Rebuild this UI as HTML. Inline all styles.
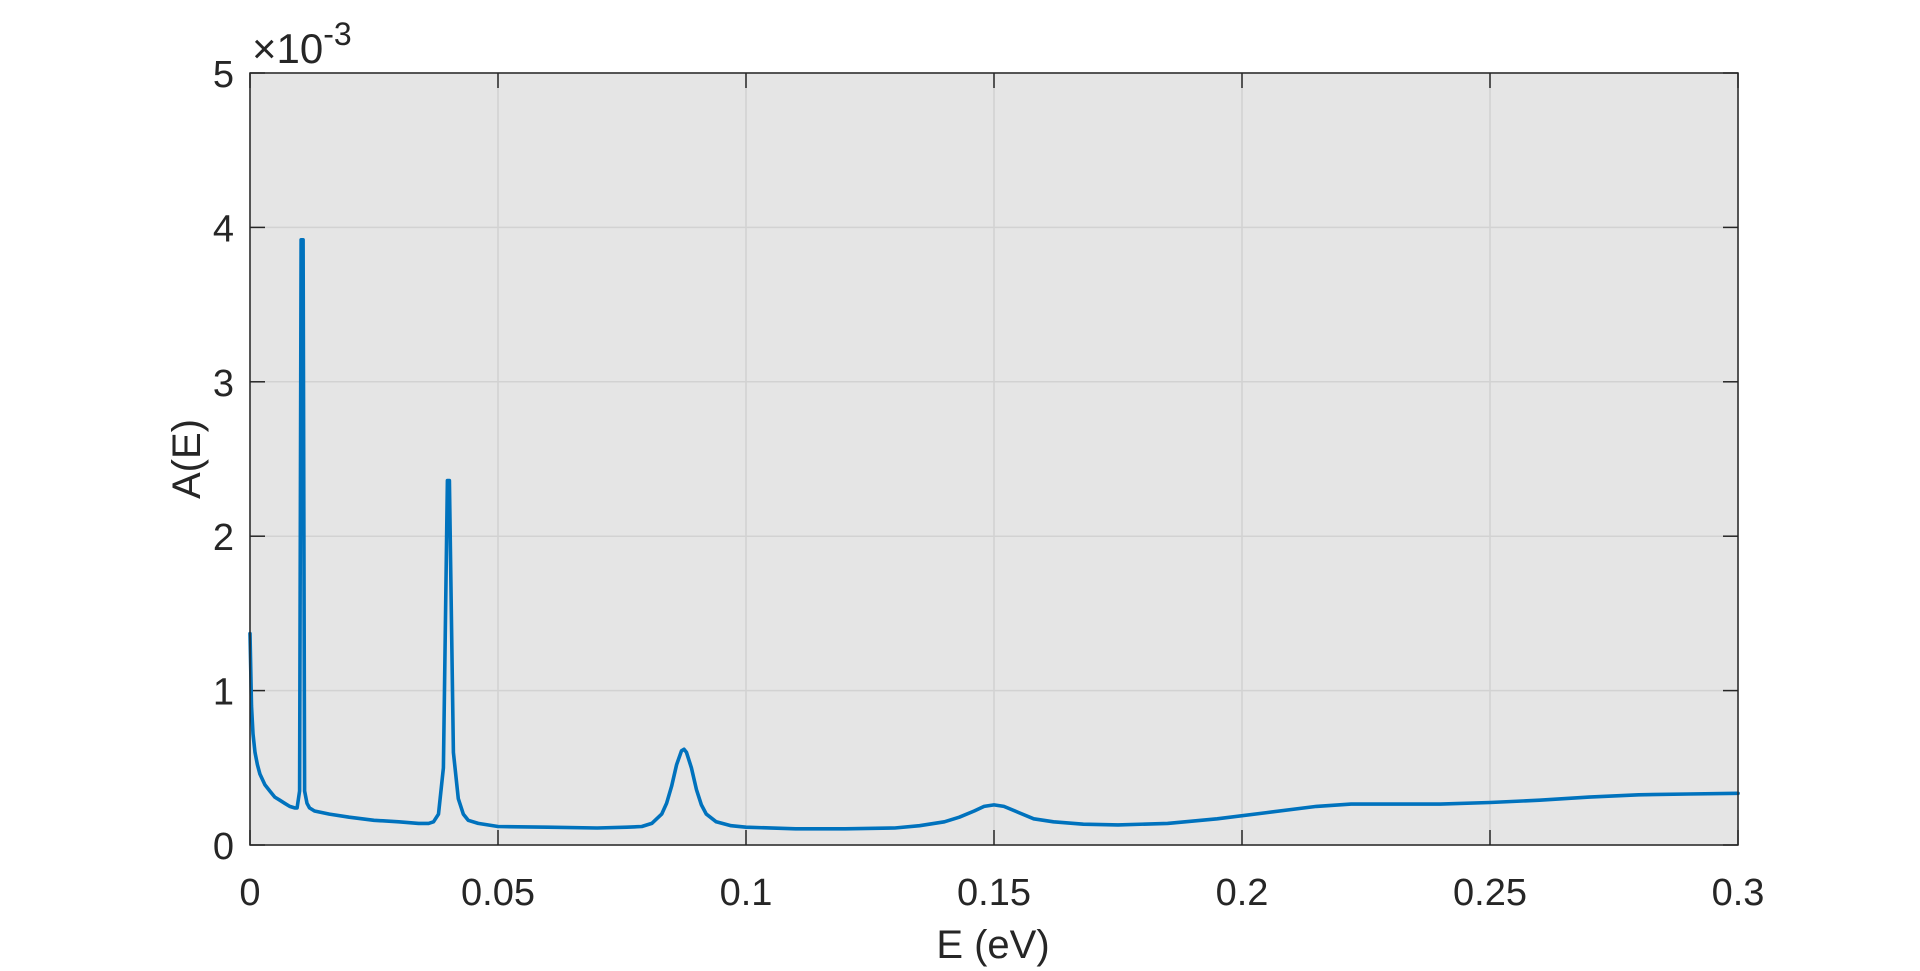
<!DOCTYPE html>
<html><head><meta charset="utf-8"><style>
html,body{margin:0;padding:0;background:#fff;}
svg{display:block;font-family:"Liberation Sans",Arial,sans-serif;}
</style></head><body>
<svg id="chart" width="1920" height="971" viewBox="0 0 1920 971">
<rect x="250" y="73" width="1488" height="772" fill="#e5e5e5"/>
<g id="grid"></g>
<g id="ticks"></g>
<polyline id="series" fill="none" stroke="#0072BD" stroke-width="3.6" stroke-linejoin="round" stroke-linecap="round"/>
<rect x="250" y="73" width="1488" height="772" fill="none" stroke="#262626" stroke-width="1.5"/>
<g id="labels" fill="#262626" font-size="38"></g>
<text x="993" y="958" text-anchor="middle" font-size="40" fill="#262626">E (eV)</text>
<text transform="translate(200,459) rotate(-90)" text-anchor="middle" font-size="40" fill="#262626">A(E)</text>
<text x="252" y="63" font-size="42" fill="#262626">×10<tspan dy="-18" font-size="32">-3</tspan></text>
</svg>
<script>
const xTicks=[0,0.05,0.1,0.15,0.2,0.25,0.3];
const xTickLabels=["0","0.05","0.1","0.15","0.2","0.25","0.3"];
const yTicks=[0,1,2,3,4,5];
const yTickLabels=["0","1","2","3","4","5"];
const energy=[0,0.0003,0.0006,0.001,0.0015,0.002,0.003,0.004,0.005,0.006,0.007,0.008,0.009,0.0095,0.0100,0.0103,0.0107,0.0110,0.0115,0.012,0.013,0.016,0.02,0.025,0.03,0.034,0.036,0.037,0.038,0.039,0.0398,0.0402,0.041,0.042,0.043,0.044,0.046,0.05,0.06,0.07,0.076,0.079,0.081,0.083,0.084,0.085,0.086,0.087,0.0875,0.088,0.089,0.09,0.091,0.092,0.094,0.097,0.1,0.11,0.12,0.13,0.135,0.14,0.143,0.146,0.148,0.15,0.152,0.155,0.158,0.162,0.168,0.175,0.185,0.195,0.205,0.215,0.222,0.23,0.24,0.25,0.26,0.27,0.28,0.29,0.3];
const absorb=[1.37,0.9,0.72,0.6,0.52,0.46,0.39,0.35,0.31,0.29,0.27,0.25,0.24,0.24,0.35,3.92,3.92,0.35,0.27,0.24,0.22,0.2,0.18,0.16,0.15,0.14,0.14,0.15,0.2,0.5,2.36,2.36,0.6,0.3,0.2,0.16,0.14,0.12,0.115,0.11,0.115,0.12,0.14,0.2,0.27,0.38,0.52,0.61,0.62,0.6,0.5,0.36,0.26,0.2,0.15,0.125,0.115,0.105,0.105,0.11,0.125,0.15,0.18,0.22,0.25,0.26,0.25,0.21,0.17,0.15,0.135,0.13,0.14,0.17,0.21,0.25,0.265,0.265,0.265,0.275,0.29,0.31,0.325,0.33,0.335];
const L=250,R=1738,T=73,B=845;
const sx=v=>L+(v-0)/(0.3)*(R-L);
const sy=v=>B-(v/5)*(B-T);
const NS="http://www.w3.org/2000/svg";
const grid=document.getElementById('grid'),ticks=document.getElementById('ticks'),labels=document.getElementById('labels');
function mk(tag,attrs,parent){const e=document.createElementNS(NS,tag);for(const k in attrs)e.setAttribute(k,attrs[k]);parent.appendChild(e);return e;}
xTicks.forEach((v,i)=>{const x=sx(v);
 const g=mk('line',{x1:x,x2:x,y1:T,y2:B,stroke:'#d2d2d2','stroke-width':1.5},grid);
 
 
 const t1=mk('line',{x1:x,x2:x,y1:B,y2:B-15,stroke:'#262626','stroke-width':1.5},ticks);
 
 
 const t2=mk('line',{x1:x,x2:x,y1:T,y2:T+15,stroke:'#262626','stroke-width':1.5},ticks);
 
 
 const l=mk('text',{x:x,y:905,'text-anchor':'middle'},labels);l.textContent=xTickLabels[i];
 
 
});
yTicks.forEach((v,i)=>{const y=sy(v);
 const g=mk('line',{x1:L,x2:R,y1:y,y2:y,stroke:'#d2d2d2','stroke-width':1.5},grid);
 
 
 const t1=mk('line',{x1:L,x2:L+15,y1:y,y2:y,stroke:'#262626','stroke-width':1.5},ticks);
 
 
 const t2=mk('line',{x1:R,x2:R-15,y1:y,y2:y,stroke:'#262626','stroke-width':1.5},ticks);
 
 
 const l=mk('text',{x:234,y:y+14,'text-anchor':'end'},labels);l.textContent=yTickLabels[i];
 
 
});
document.getElementById('series').setAttribute('points',energy.map((e,i)=>sx(e).toFixed(1)+','+sy(absorb[i]).toFixed(1)).join(' '));
</script>
</body></html>
